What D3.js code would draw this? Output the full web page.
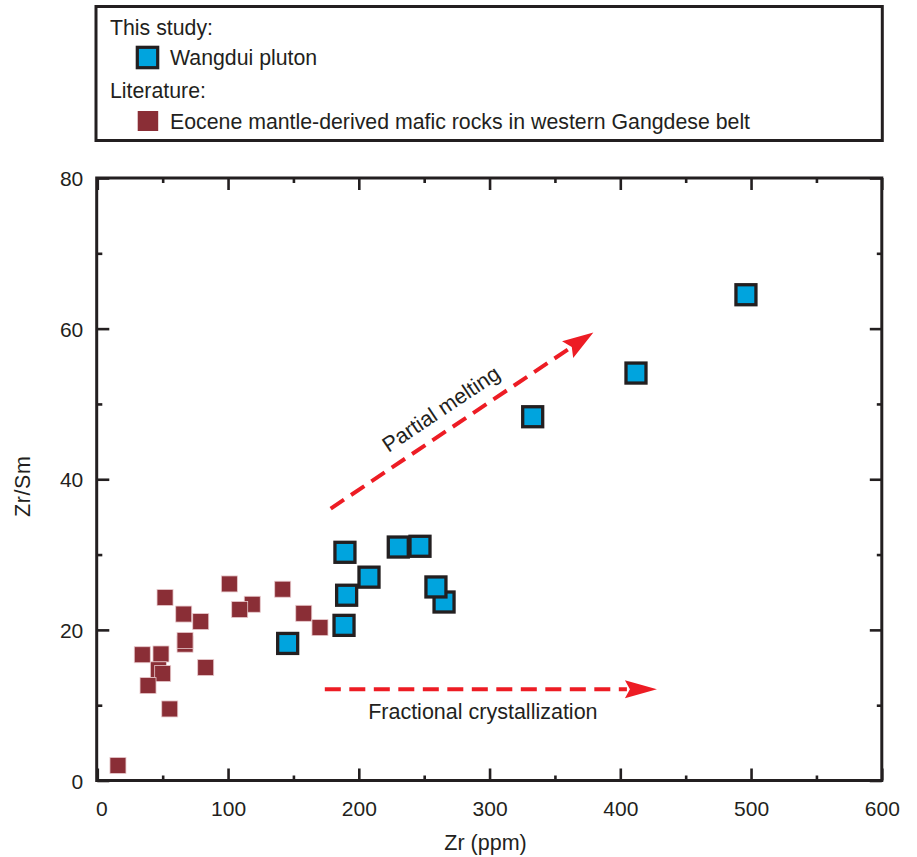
<!DOCTYPE html>
<html><head><meta charset="utf-8">
<script src="https://cdn.jsdelivr.net/npm/d3@7"></script>
<style>
body{margin:0;background:#fff}
svg{display:block;font-family:"Liberation Sans",Arial,Helvetica,sans-serif}
</style>
</head><body>
<svg id="chart" width="917" height="857"></svg>
<script>
// ---- data ----
const wangduiZr   = [496.1, 412.0, 333.0, 189.4, 230.2, 246.8, 207.8, 190.7, 265.2, 259.0, 188.7, 145.6];
const wangduiZrSm = [64.5, 54.1, 48.3, 30.3, 31.0, 31.1, 27.0, 24.6, 23.7, 25.7, 20.6, 18.2];
const eoceneZr    = [51.8, 66.1, 79.1, 101.0, 118.5, 108.9, 141.8, 157.9, 170.3, 67.1, 67.1, 34.4, 48.7, 46.7, 50.0, 38.8, 82.9, 55.4, 15.8];
const eoceneZrSm  = [24.3, 22.1, 21.1, 26.1, 23.4, 22.7, 25.4, 22.2, 20.3, 18.1, 18.6, 16.7, 16.8, 14.7, 14.2, 12.6, 15.0, 9.5, 2.0];
const xTickValues = [0, 100, 200, 300, 400, 500, 600];
const xMinorTicks = [50, 150, 250, 350, 450, 550];
const yTickValues = [0, 20, 40, 60, 80];
const yMinorTicks = [10, 30, 50, 70];
const legendHeaders = ["This study:", "Literature:"];
const seriesNames = ["Wangdui pluton", "Eocene mantle-derived mafic rocks in western Gangdese belt"];
const arrowLabels = ["Partial melting", "Fractional crystallization"];
const partialMeltingArrow = [[178.5, 36.1], [379.4, 59.5]];
const fractionalArrow = [[174, 12.1], [428, 12.1]];
const xTitle = "Zr (ppm)";
const yTitle = "Zr/Sm";

// ---- styles ----
const INK = "#231f20", BLUE = "#00a4de", RED = "#8a2e36", ARROW = "#ed1c24";

const svg = d3.select("#chart");
const L = 97.3, R = 881.8, T = 178, B = 780.5;
const x = d3.scaleLinear().domain([0, 600]).range([L, R]);
const y = d3.scaleLinear().domain([0, 80]).range([B, T]);

// ---- legend ----
const lg = svg.append("g");
lg.append("rect").attr("x", 96).attr("y", 6.5).attr("width", 786.3).attr("height", 134)
  .attr("fill", "none").attr("stroke", INK).attr("stroke-width", 3);
lg.append("text").attr("x", 110).attr("y", 35).text(legendHeaders[0]);
lg.append("text").attr("x", 110).attr("y", 98).text(legendHeaders[1]);
lg.append("rect").attr("x", 137.3).attr("y", 47.3).attr("width", 20.4).attr("height", 20.4)
  .attr("fill", BLUE).attr("stroke", INK).attr("stroke-width", 3.2);
lg.append("text").attr("x", 170).attr("y", 65).text(seriesNames[0]);
lg.append("rect").attr("x", 137.7).attr("y", 111).attr("width", 20.5).attr("height", 20)
  .attr("fill", RED);
lg.append("text").attr("x", 170).attr("y", 128.5).text(seriesNames[1]);
lg.selectAll("text").attr("font-size", 21.3).attr("fill", INK);

// ---- axes ----
function styleAxis(g) {
  g.select(".domain").remove();
  g.selectAll(".tick line").attr("stroke", INK).attr("stroke-width", 2.6);
  g.selectAll(".tick text").attr("fill", INK).attr("font-size", 21)
    .attr("font-family", '"Liberation Sans",Arial,sans-serif');
}
svg.append("g").attr("transform", `translate(0,${B})`)
  .call(d3.axisBottom(x).tickValues(xTickValues).tickSize(-12).tickPadding(22).tickFormat(d3.format("d")))
  .call(styleAxis)
  .call(g => g.selectAll(".tick text").attr("dy", "0em").attr("y", 35)
    .attr("dx", d => d === 0 ? 4 : 0));
svg.append("g").attr("transform", `translate(0,${B})`)
  .call(d3.axisBottom(x).tickValues(xMinorTicks).tickSize(-5).tickFormat(""))
  .call(styleAxis);
svg.append("g").attr("transform", `translate(0,${T})`)
  .call(d3.axisTop(x).tickValues(xTickValues).tickSize(-12).tickFormat(""))
  .call(styleAxis);
svg.append("g").attr("transform", `translate(0,${T})`)
  .call(d3.axisTop(x).tickValues(xMinorTicks).tickSize(-5).tickFormat(""))
  .call(styleAxis);
svg.append("g").attr("transform", `translate(${L},0)`)
  .call(d3.axisLeft(y).tickValues(yTickValues).tickSize(-12).tickPadding(0).tickFormat(d3.format("d")))
  .call(styleAxis)
  .call(g => g.selectAll(".tick text").attr("x", -14).attr("dy", "0.36em"));
svg.append("g").attr("transform", `translate(${L},0)`)
  .call(d3.axisLeft(y).tickValues(yMinorTicks).tickSize(-5).tickFormat(""))
  .call(styleAxis);
svg.append("g").attr("transform", `translate(${R},0)`)
  .call(d3.axisRight(y).tickValues(yTickValues).tickSize(-12).tickFormat(""))
  .call(styleAxis);
svg.append("g").attr("transform", `translate(${R},0)`)
  .call(d3.axisRight(y).tickValues(yMinorTicks).tickSize(-5).tickFormat(""))
  .call(styleAxis);

// frame
svg.append("rect").attr("x", x(0) - 0.6).attr("y", y(80)).attr("width", x(600) - x(0) + 0.6)
  .attr("height", y(0) - y(80)).attr("fill", "none").attr("stroke", INK).attr("stroke-width", 3);

// axis titles
svg.append("text").attr("x", (x(0) + x(600)) / 2 - 4).attr("y", 850)
  .attr("text-anchor", "middle").attr("font-size", 21.5).attr("fill", INK).text(xTitle);
svg.append("text").attr("transform", `translate(29.5,${(y(0) + y(80)) / 2 + 7}) rotate(-90)`)
  .attr("text-anchor", "middle").attr("font-size", 21.5).attr("letter-spacing", 0.6).attr("fill", INK).text(yTitle);

// ---- arrows ----
function arrow(pts, headLen, headW) {
  const [p0, p1] = pts.map(([a, b]) => [x(a), y(b)]);
  const dx = p1[0] - p0[0], dy = p1[1] - p0[1];
  const len = Math.hypot(dx, dy), ux = dx / len, uy = dy / len;
  const bx = p1[0] - ux * headLen, by = p1[1] - uy * headLen;
  svg.append("line").attr("x1", p0[0]).attr("y1", p0[1]).attr("x2", bx + ux * 2).attr("y2", by + uy * 2)
    .attr("stroke", ARROW).attr("stroke-width", 4).attr("stroke-dasharray", "16,8.5");
  const px = -uy, py = ux;
  svg.append("path")
    .attr("d", `M${p1[0]},${p1[1]}L${bx + px * headW / 2},${by + py * headW / 2}L${bx + ux * 5},${by + uy * 5}L${bx - px * headW / 2},${by - py * headW / 2}Z`)
    .attr("fill", ARROW);
  return {p0, p1, ux, uy, angle: Math.atan2(dy, dx) * 180 / Math.PI};
}
const a1 = arrow(partialMeltingArrow, 31, 20);
const a2 = arrow(fractionalArrow, 32, 18);

// arrow labels
{
  const t = 0.465;
  const cx = a1.p0[0] + (a1.p1[0] - a1.p0[0]) * t, cy = a1.p0[1] + (a1.p1[1] - a1.p0[1]) * t;
  const off = 14;
  svg.append("text")
    .attr("transform", `translate(${cx + a1.uy * off},${cy - a1.ux * off}) rotate(${a1.angle})`)
    .attr("text-anchor", "middle").attr("font-size", 21.5).attr("fill", INK).text(arrowLabels[0]);
}
svg.append("text").attr("x", (a2.p0[0] + a2.p1[0]) / 2 - 8).attr("y", a2.p0[1] + 29.5)
  .attr("text-anchor", "middle").attr("font-size", 21.5).attr("fill", INK).text(arrowLabels[1]);

// ---- points ----
const eocene = eoceneZr.map((v, i) => ({zr: v, r: eoceneZrSm[i]}));
const wangdui = wangduiZr.map((v, i) => ({zr: v, r: wangduiZrSm[i]}));
const rs = 16;
svg.append("g").selectAll("rect").data(eocene).join("rect")
  .attr("x", d => x(d.zr) - rs / 2).attr("y", d => y(d.r) - rs / 2)
  .attr("width", rs).attr("height", rs).attr("fill", RED)
  .attr("stroke", "#e8c9cc").attr("stroke-width", 0.8);
const bs = 20;
svg.append("g").selectAll("rect").data(wangdui).join("rect")
  .attr("x", d => x(d.zr) - bs / 2).attr("y", d => y(d.r) - bs / 2)
  .attr("width", bs).attr("height", bs).attr("fill", BLUE)
  .attr("stroke", INK).attr("stroke-width", 3.3);
</script>
</body></html>
